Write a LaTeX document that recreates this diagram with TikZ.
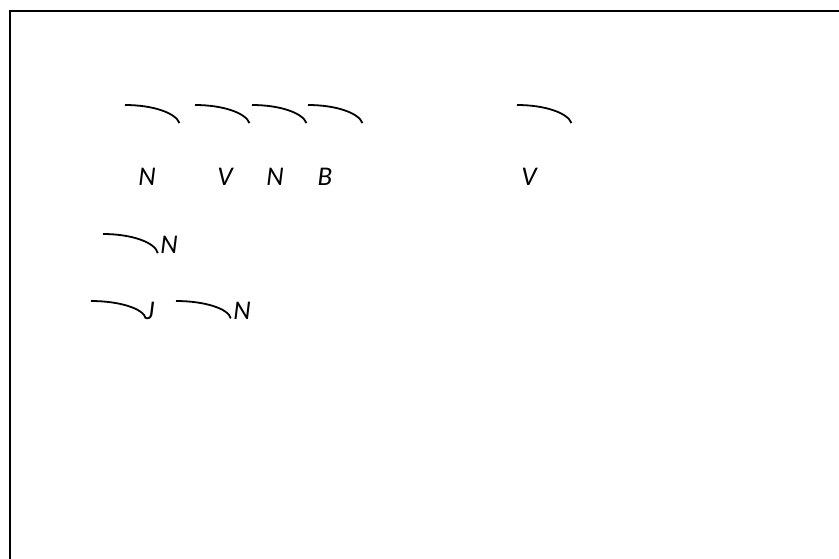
\documentclass[tikz,border=0pt]{standalone}
\usepackage{fontspec}
\setmainfont{Carlito}
\usetikzlibrary{calc}

\tikzset{
  tag/.style={font=\fontsize{27}{32}\selectfont\itshape, inner sep=0pt},
  hook/.style={black, line width=1.8pt},
}

\begin{document}
\begin{tikzpicture}[x=1pt, y=-1pt]

\useasboundingbox (0,0) rectangle (839,558);

% frame
\coordinate (F1) at (10,560);
\coordinate (F2) at (840,11);
\draw[black, line width=2.2pt] (F1) |- (F2);

% arcs of the first row
\foreach \x [count=\i] in {125,195,252,308,517}
  \coordinate (A\i) at (\x,105);
\foreach \i in {1,...,5}
  \draw[hook] (A\i) arc(-90:-8:55 and 21);

% labels of the first row
\node[tag] (N1) at (147,177) {N};
\node[tag] (V1) at (225,177) {V};
\node[tag] (N2) at (275,177) {N};
\node[tag] (B1) at (325,177) {B};
\node[tag] (V2) at (529,177) {V};

% second row
\coordinate (A6) at (103,234);
\draw[hook] (A6) arc(-90:-5:55 and 21);
\node[tag] (N3) at (169,245) {N};

% third row
\coordinate (A7) at (91,301);
\coordinate (A8) at (176,301);
\draw[hook] (A7) arc(-90:-5:55 and 19);
\draw[hook] (A8) arc(-90:-5:55 and 19);
\node[tag] (J1) at (150,311) {J};
\node[tag] (N4) at (242,311) {N};

\end{tikzpicture}
\end{document}
